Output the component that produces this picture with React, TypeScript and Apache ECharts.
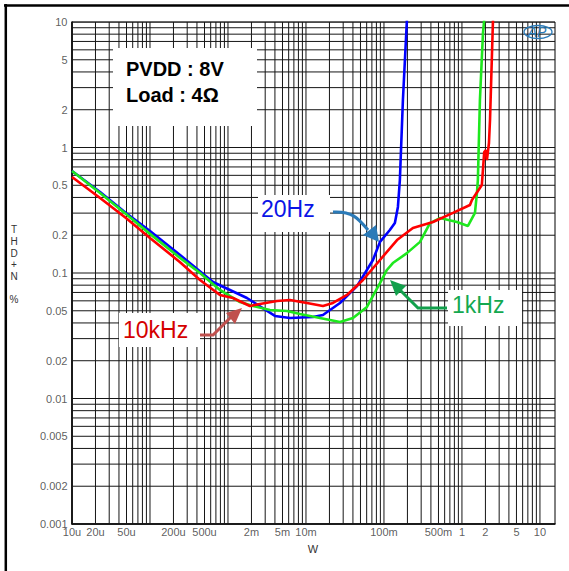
import React, { useEffect, useRef } from "react";
import * as echarts from "echarts";

// ---- Data ----
const x20Hz = [1e-5, 2.29e-5, 4.92e-5, 1e-4, 2.43e-4, 6.42e-4, 1.75e-3, 4.0e-3, 6.24e-3, 1.23e-2, 1.65e-2, 2.73e-2, 4.51e-2, 7.23e-2, 8.89e-2, 0.119, 0.138, 0.151, 0.16, 0.175, 0.197, 0.203];
const y20Hz = [0.65, 0.442, 0.301, 0.216, 0.139, 0.0848, 0.0632, 0.0455, 0.0438, 0.0446, 0.0463, 0.0577, 0.0787, 0.127, 0.177, 0.22, 0.25, 0.336, 0.551, 2.39, 10.4, 12];

const x10kHz = [1e-5, 2.29e-5, 4.92e-5, 1e-4, 2.43e-4, 4.38e-4, 7.89e-4, 1.16e-3, 1.91e-3, 2.57e-3, 4.25e-3, 6.24e-3, 1.03e-2, 1.65e-2, 2.22e-2, 3.36e-2, 5.38e-2, 8.89e-2, 0.147, 0.235, 0.425, 0.767, 1.267, 1.343, 1.8, 1.93, 2.03, 2.09, 2.22, 2.29, 2.5, 2.53];
const y10kHz = [0.582, 0.396, 0.274, 0.19, 0.122, 0.088, 0.0668, 0.0632, 0.0546, 0.0567, 0.0598, 0.0609, 0.0577, 0.0546, 0.0577, 0.0668, 0.088, 0.127, 0.183, 0.228, 0.255, 0.301, 0.348, 0.382, 0.503, 0.921, 0.955, 0.795, 1.086, 1.656, 10.4, 12];

const x1kHz = [1e-5, 2.29e-5, 4.92e-5, 1e-4, 2.43e-4, 4.38e-4, 7.89e-4, 1.425e-3, 2.09e-3, 3.45e-3, 5.71e-3, 8.38e-3, 1.51e-2, 2.73e-2, 4.01e-2, 6.05e-2, 8.89e-2, 0.109, 0.13, 0.197, 0.29, 0.389, 0.522, 0.863, 1.194, 1.468, 1.557, 1.6, 1.7, 1.86, 1.97];
const y1kHz = [0.65, 0.434, 0.295, 0.205, 0.132, 0.1, 0.0733, 0.0587, 0.0546, 0.0507, 0.0498, 0.0471, 0.0438, 0.0407, 0.0438, 0.0536, 0.0832, 0.1057, 0.12, 0.144, 0.177, 0.25, 0.274, 0.255, 0.237, 0.301, 0.434, 0.551, 2.39, 8.17, 12];

const xTickValues = [1e-5, 2e-5, 5e-5, 2e-4, 5e-4, 2e-3, 5e-3, 1e-2, 1e-1, 5e-1, 1, 2, 5, 10];
const xTickLabels = ["10u", "20u", "50u", "200u", "500u", "2m", "5m", "10m", "100m", "500m", "1", "2", "5", "10"];
const yTickValues = [10, 5, 2, 1, 0.5, 0.2, 0.1, 0.05, 0.02, 0.01, 0.005, 0.002, 0.001];
const yTickLabels = ["10", "5", "2", "1", "0.5", "0.2", "0.1", "0.05", "0.02", "0.01", "0.005", "0.002", "0.001"];

const X_MIN = 1e-5;
const X_MAX = 15.6;
const Y_MIN = 0.001;
const Y_MAX = 10;

const FONT = "'Liberation Sans', Arial, Helvetica, sans-serif";

function logGrid(minExp: number, maxExp: number): number[] {
  const out: number[] = [];
  for (let e = minExp; e < maxExp; e++) {
    for (let k = 1; k <= 9; k++) out.push(parseFloat((k * Math.pow(10, e)).toPrecision(3)));
  }
  out.push(Math.pow(10, maxExp));
  return out;
}

const pairs = (xs: number[], ys: number[]) => xs.map((x, i) => [x, ys[i]]);

export default function App() {
  const ref = useRef<HTMLDivElement>(null);
  useEffect(() => {
    if (!ref.current) return;
    const chart = echarts.init(ref.current, null, { renderer: "svg" });
    const gridStyle = { color: "#161616", width: 1, type: "solid" as const };
    const gridSeries = (data: number[][]) => ({
      type: "line",
      data,
      symbol: "none",
      lineStyle: gridStyle,
      silent: true,
      z: 0,
      emphasis: { disabled: true },
    });
    const vGrid = logGrid(-5, 1).map((v) => gridSeries([[v, Y_MIN], [v, Y_MAX]]));
    const hGrid = logGrid(-3, 1).map((v) => gridSeries([[X_MIN, v], [X_MAX, v]]));
    const lineSeries = (name: string, data: number[][], color: string) => ({
      name,
      type: "line",
      data,
      symbol: "none",
      lineStyle: { color, width: 2.6 },
      itemStyle: { color },
      z: 5,
      silent: true,
    });
    const option: any = {
      animation: false,
      backgroundColor: "#fff",
      grid: { left: 72, top: 22, width: 483, height: 502, show: true, borderColor: "#000", borderWidth: 1, backgroundColor: "#fff" },
      xAxis: {
        type: "log",
        min: X_MIN,
        max: X_MAX,
        axisLabel: { show: false },
        axisTick: { show: false },
        splitLine: { show: false },
        axisLine: { show: true, lineStyle: { color: "#000", width: 1.5 } },
      },
      yAxis: {
        type: "log",
        min: Y_MIN,
        max: Y_MAX,
        axisLabel: { show: false },
        axisTick: { show: false },
        splitLine: { show: false },
        axisLine: { show: true, lineStyle: { color: "#000", width: 1.5 } },
      },
      series: [
        ...vGrid,
        ...hGrid,
        {
          type: "scatter",
          data: xTickValues.map((v) => [v, Y_MIN]),
          symbolSize: 1,
          itemStyle: { color: "rgba(0,0,0,0)" },
          clip: false,
          silent: true,
          z: 1,
          label: {
            show: true,
            position: "bottom",
            distance: 2,
            formatter: (p: any) => xTickLabels[p.dataIndex],
            color: "#333",
            fontSize: 11,
            fontFamily: FONT,
          },
        },
        {
          type: "scatter",
          data: yTickValues.map((v) => [X_MIN, v]),
          symbolSize: 1,
          itemStyle: { color: "rgba(0,0,0,0)" },
          clip: false,
          silent: true,
          z: 1,
          label: {
            show: true,
            position: "left",
            distance: 4,
            formatter: (p: any) => yTickLabels[p.dataIndex],
            color: "#333",
            fontSize: 11,
            fontFamily: FONT,
          },
        },
        lineSeries("20Hz", pairs(x20Hz, y20Hz), "#0000ff"),
        lineSeries("1kHz", pairs(x1kHz, y1kHz), "#1ee81e"),
        lineSeries("10kHz", pairs(x10kHz, y10kHz), "#ff0000"),
      ],
      graphic: [
        // outer frame (left & top)
        { type: "line", z: 100, shape: { x1: 4, y1: 5.5, x2: 569, y2: 5.5 }, style: { stroke: "#000", lineWidth: 2.5 } },
        { type: "line", z: 100, shape: { x1: 5.8, y1: 4, x2: 5.8, y2: 571 }, style: { stroke: "#000", lineWidth: 2.5 } },
        // axis titles
        {
          type: "text", z: 100, x: 14, y: 224,
          style: { text: "T\nH\nD\n+\nN\n\n%", fontSize: 10, fontFamily: FONT, fill: "#333", lineHeight: 11.6, align: "center", textAlign: "center", verticalAlign: "top", textVerticalAlign: "top" },
        },
        {
          type: "text", z: 100, x: 313, y: 549,
          style: { text: "W", fontSize: 11, fontFamily: FONT, fill: "#333", align: "center", textAlign: "center", verticalAlign: "middle", textVerticalAlign: "middle" },
        },
        // PVDD box
        { type: "rect", z: 100, shape: { x: 113, y: 48, width: 144, height: 78 }, style: { fill: "#fff" } },
        {
          type: "text", z: 101, x: 126, y: 69,
          style: { text: "PVDD : 8V", fontSize: 20, fontWeight: "bold", fontFamily: FONT, fill: "#000", align: "left", textAlign: "left", verticalAlign: "middle", textVerticalAlign: "middle" },
        },
        {
          type: "text", z: 101, x: 126, y: 95,
          style: { text: "Load : 4Ω", fontSize: 20, fontWeight: "bold", fontFamily: FONT, fill: "#000", align: "left", textAlign: "left", verticalAlign: "middle", textVerticalAlign: "middle" },
        },
        // 20Hz label
        { type: "rect", z: 100, shape: { x: 258, y: 195, width: 72, height: 37 }, style: { fill: "#fff" } },
        {
          type: "text", z: 101, x: 261, y: 209,
          style: { text: "20Hz", fontSize: 23, fontFamily: FONT, fill: "#0a14e6", align: "left", textAlign: "left", verticalAlign: "middle", textVerticalAlign: "middle" },
        },
        { type: "bezierCurve", z: 101, shape: { x1: 333, y1: 212, cpx1: 352, cpy1: 211, cpx2: 358, cpy2: 218, x2: 368, y2: 230 }, style: { stroke: "#2a7ab8", lineWidth: 3, fill: null } },
        { type: "polygon", z: 101, shape: { points: [[363, 235], [376, 225], [379, 242]] }, style: { fill: "#2a7ab8" } },
        // 1kHz label
        { type: "rect", z: 100, shape: { x: 448, y: 290, width: 74, height: 36 }, style: { fill: "#fff" } },
        {
          type: "text", z: 101, x: 452, y: 305,
          style: { text: "1kHz", fontSize: 23, fontFamily: FONT, fill: "#14a850", align: "left", textAlign: "left", verticalAlign: "middle", textVerticalAlign: "middle" },
        },
        { type: "polyline", z: 101, shape: { points: [[447, 308], [418, 308], [399, 289]] }, style: { stroke: "#12a04c", lineWidth: 3, fill: null } },
        { type: "polygon", z: 101, shape: { points: [[390, 280], [406, 286], [396, 296]] }, style: { fill: "#12a04c" } },
        // 10kHz label
        { type: "rect", z: 100, shape: { x: 119, y: 313, width: 81, height: 34 }, style: { fill: "#fff" } },
        {
          type: "text", z: 101, x: 123, y: 330,
          style: { text: "10kHz", fontSize: 23, fontFamily: FONT, fill: "#d40000", align: "left", textAlign: "left", verticalAlign: "middle", textVerticalAlign: "middle" },
        },
        { type: "polyline", z: 101, shape: { points: [[200, 335], [213, 335], [231, 317]] }, style: { stroke: "#c0504d", lineWidth: 3, fill: null } },
        { type: "polygon", z: 101, shape: { points: [[242, 308], [226, 313], [235, 324]] }, style: { fill: "#c0504d" } },
        // AP logo
        { type: "ellipse", z: 101, shape: { cx: 538, cy: 32, rx: 14, ry: 6.5 }, style: { stroke: "#2a7ab8", lineWidth: 1.3, fill: null } },
        {
          type: "text", z: 102, x: 537, y: 32,
          style: { text: "AP", fontSize: 14, fontStyle: "italic", fontFamily: FONT, fill: "#2a7ab8", align: "center", textAlign: "center", verticalAlign: "middle", textVerticalAlign: "middle" },
        },
      ],
    };
    chart.setOption(option);
    return () => chart.dispose();
  }, []);
  return (
    <div
      ref={ref}
      style={{ position: "fixed", left: 0, top: 0, width: 569, height: 571, background: "#fff" }}
    />
  );
}
